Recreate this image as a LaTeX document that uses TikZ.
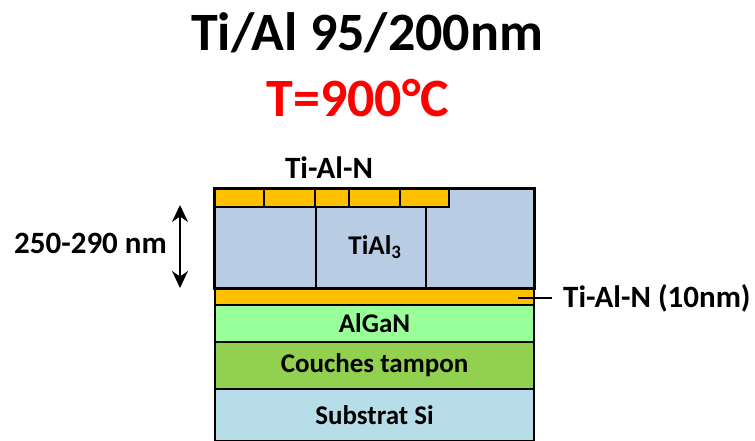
\documentclass[tikz,border=0pt]{standalone}
\usepackage{fontspec}
\setmainfont{Carlito}
\usetikzlibrary{arrows.meta,positioning,calc}
\definecolor{Gold}{HTML}{FFC000}
\definecolor{Steel}{HTML}{B8CCE4}
\definecolor{Mint}{HTML}{99FF99}
\definecolor{Grass}{HTML}{92D050}
\definecolor{Sky}{HTML}{B7DEE8}
\definecolor{Hot}{HTML}{FF0000}

\begin{document}
\begin{tikzpicture}[x=1pt,y=-1pt,>=Stealth,
    layer/.style={draw=black,line width=2pt,minimum width=319pt,inner sep=0pt,
      font=\fontsize{27}{29}\bfseries\selectfont},
    grain/.style={draw=black,line width=1.6pt,fill=Gold},
    lbl/.style={font=\fontsize{31}{33}\bfseries\selectfont,inner sep=0pt},
    title/.style={font=\fontsize{54}{58}\bfseries\selectfont,inner sep=0pt}]
  \useasboundingbox (0,0) rectangle (755,441);
  % titles
  \node[title] (ttl) at (367,33) {Ti/Al 95/200nm};
  \node[title,text=Hot] (temp) at (358,98) {T=900°C};
  % stack
  \node[layer,fill=Sky,minimum height=52pt] (si) at (374.5,415) {Substrat Si};
  \node[layer,fill=Grass,minimum height=47pt] (buf) at (374.5,365.5) {Couches tampon};
  \node[layer,fill=Mint,minimum height=37pt] (algan) at (374.5,323.5) {AlGaN};
  \node[layer,fill=Gold,minimum height=17pt] (tin) at (374.5,296.5) {};
  \node[layer,fill=Steel,minimum height=99pt] (tial) at (374.5,238.5) {};
  % grains at top
  \foreach \a/\b in {215/264,264/315,315/349,349/400,400/449}
    \draw[grain] (\a,189) rectangle (\b,207);
  \draw[line width=1.6pt] (316,207) -- (316,288) (426,207) -- (426,288);
  \draw[line width=2pt] (tial.north west) rectangle (tial.south east);
  \node[layer,draw=none,minimum width=0pt] (ti3) at (375,247) {TiAl\textsubscript{3}};
  \node[lbl] (top) at (329,168) {Ti-Al-N};
  % thin nitride label
  \coordinate (tn) at (518,298);
  \node[lbl,anchor=west] (tnlab) at (563,298) {Ti-Al-N (10nm)};
  \draw[line width=1.5pt,shorten >=11pt] (tn) -- (tnlab.west);
  % thickness arrow
  \coordinate (up) at (180,205);
  \coordinate (dn) at (180,288);
  \draw[<->,line width=2pt,>={Stealth[length=17pt,width=16pt]}] (up) -- (dn);
  \node[lbl,anchor=east] (thk) at (167,243) {250-290 nm};
\end{tikzpicture}
\end{document}
